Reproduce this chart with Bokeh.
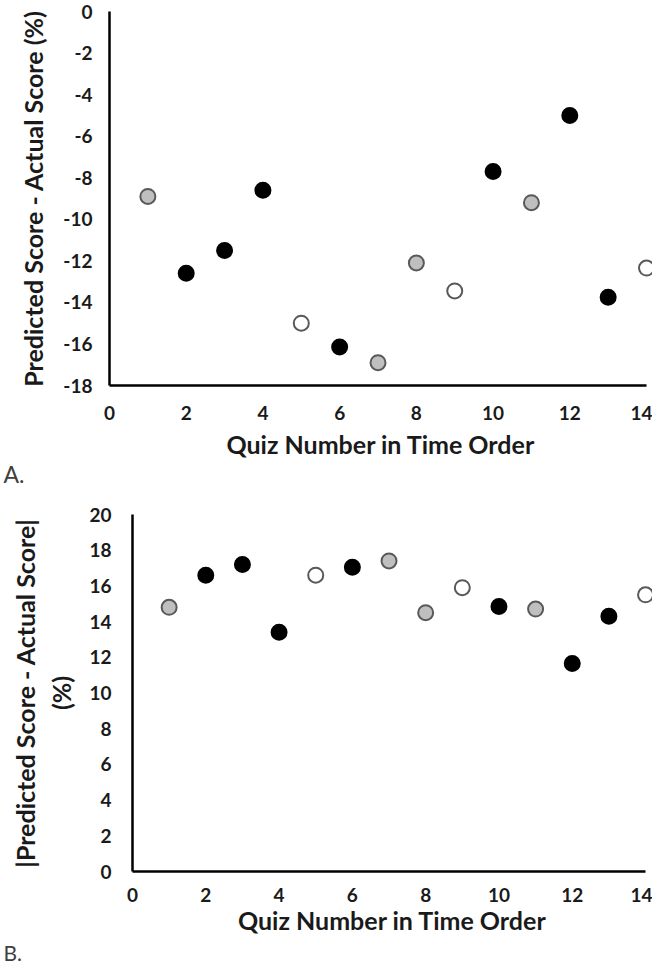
from bokeh.plotting import figure
from bokeh.models import ColumnDataSource, Range1d, FixedTicker, Title
from bokeh.embed import file_html
from bokeh.resources import INLINE

quiz = [1, 2, 3, 4, 5, 6, 7, 8, 9, 10, 11, 12, 13, 14]
group = ["gray", "black", "black", "black", "white", "black", "gray",
         "gray", "white", "black", "gray", "black", "black", "white"]
diff_signed = [-8.9, -12.6, -11.5, -8.6, -15.0, -16.15, -16.9,
               -12.1, -13.45, -7.7, -9.2, -5.0, -13.75, -12.35]
diff_abs = [14.8, 16.6, 17.2, 13.4, 16.6, 17.05, 17.4,
            14.5, 15.9, 14.85, 14.7, 11.65, 14.3, 15.5]
x_ticks = [0, 2, 4, 6, 8, 10, 12, 14]
y_ticks_a = [0, -2, -4, -6, -8, -10, -12, -14, -16, -18]
y_ticks_b = [0, 2, 4, 6, 8, 10, 12, 14, 16, 18, 20]

FILL = {"black": "#000000", "gray": "#bfbfbf", "white": "#ffffff"}
LINE = {"black": "#000000", "gray": "#595959", "white": "#595959"}
FONT = "Lato"


def style(p, yticks, ystandoff):
    p.outline_line_color = None
    p.grid.grid_line_color = None
    for ax in (p.xaxis[0], p.yaxis[0]):
        ax.axis_line_width = 2.5
        ax.axis_line_color = "#000000"
        ax.major_tick_line_color = None
        ax.minor_tick_line_color = None
        ax.major_tick_out = 0
        ax.major_tick_in = 0
        ax.major_label_text_font = FONT
        ax.major_label_text_font_style = "bold"
        ax.major_label_text_font_size = "19px"
        ax.major_label_text_color = "#1a1a1a"
        ax.axis_label_text_font = FONT
        ax.axis_label_text_font_style = "bold"
        ax.axis_label_text_font_size = "25px"
        ax.axis_label_text_color = "#1a1a1a"
    p.xaxis[0].ticker = FixedTicker(ticks=x_ticks)
    p.yaxis[0].ticker = FixedTicker(ticks=yticks)
    p.yaxis[0].major_label_overrides = {t: str(t) for t in yticks}
    p.yaxis[0].major_label_standoff = ystandoff
    p.xaxis[0].bounds = (0, 14)
    p.xaxis[0].axis_label = "Quiz Number in Time Order"


def make_source(yvals):
    return ColumnDataSource(dict(
        x=quiz, y=yvals,
        fill=[FILL[g] for g in group],
        line=[LINE[g] for g in group],
    ))


def panel_label(text, offset, standoff, size):
    return Title(text=text, align="left", offset=offset, standoff=standoff,
                 text_font=FONT, text_font_style="normal",
                 text_font_size=size, text_color="#404040")


# Panel A
p1 = figure(width=652, height=491, output_backend="svg", toolbar_location=None,
            x_range=Range1d(0, 14.156), y_range=Range1d(-18, 0),
            min_border_left=109, min_border_right=0, min_border_top=11,
            min_border_bottom=106)
style(p1, y_ticks_a, 17)
p1.xaxis[0].major_label_standoff = 20
p1.xaxis[0].axis_label_standoff = 6
p1.yaxis[0].axis_label = "Predicted Score - Actual Score (%)"
p1.yaxis[0].axis_label_standoff = 12
p1.scatter("x", "y", source=make_source(diff_signed), size=15, line_width=2,
           fill_color="fill", line_color="line")
p1.add_layout(panel_label("A.", -106, -8, "23px"), "below")

# Panel B
p2 = figure(width=652, height=473, output_backend="svg", toolbar_location=None,
            x_range=Range1d(0, 14.19), y_range=Range1d(0, 20),
            min_border_left=132, min_border_right=0, min_border_top=23,
            min_border_bottom=70)
style(p2, y_ticks_b, 21)
p2.xaxis[0].major_label_standoff = 16
p2.xaxis[0].axis_label_standoff = 0
p2.yaxis[0].axis_label = "|Predicted Score - Actual Score|\n(%)"
p2.yaxis[0].axis_label_standoff = 10
p2.scatter("x", "y", source=make_source(diff_abs), size=15, line_width=2,
           fill_color="fill", line_color="line")
p2.add_layout(panel_label("B.", -129, 0, "21px"), "below")

open("out.html", "w").write(file_html([p1, p2], INLINE))
